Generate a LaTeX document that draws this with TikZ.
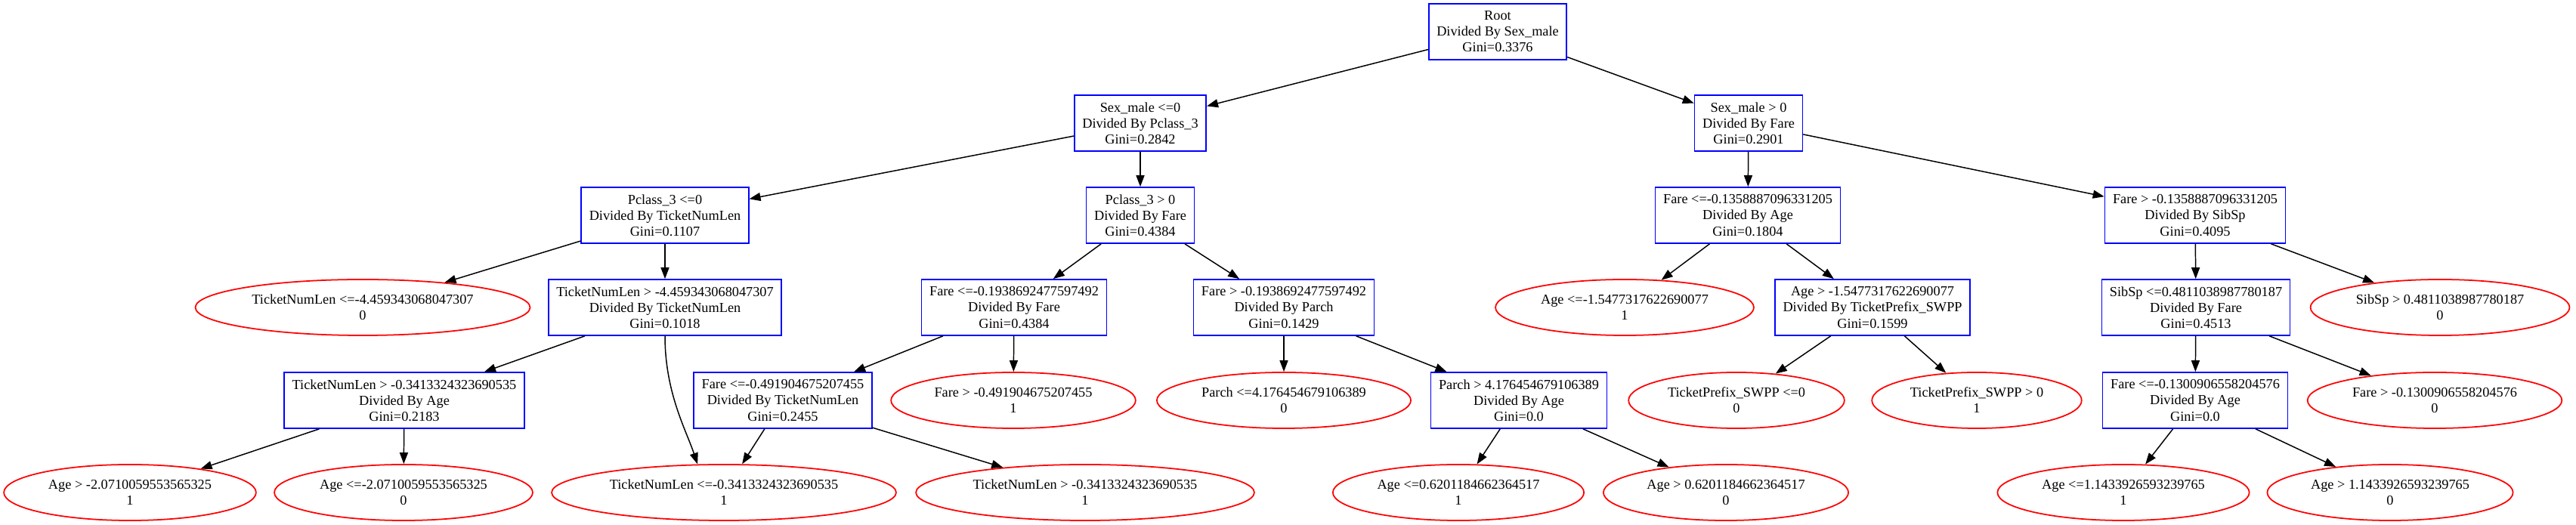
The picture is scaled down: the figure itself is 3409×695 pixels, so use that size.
\documentclass[tikz,border=0pt]{standalone}
\usepackage{fontspec}
\setmainfont{Liberation Serif}
\usepackage{xcolor}
\usepackage{tikz}
\usetikzlibrary{arrows.meta,positioning,shapes.geometric}
\definecolor{treeblue}{HTML}{0000FF}
\definecolor{treered}{HTML}{FF0000}

\begin{document}
\begin{tikzpicture}[x=0.01cm,y=-0.01cm,
  splitbox/.style={rectangle, draw=treeblue, line width=0.45pt, align=center, minimum height=0.74cm, inner xsep=0.105cm, inner ysep=0pt, font=\fontsize{5.2}{6}\selectfont},
  leafnode/.style={ellipse, draw=treered, line width=0.5pt, align=center, minimum height=0.74cm, inner xsep=0.1cm, inner ysep=0pt, font=\fontsize{5.2}{6}\selectfont},
  branch/.style={draw=black, line width=0.42pt, -{Triangle[length=1.5mm,width=1.1mm]}}]
\def\yA{42}
\def\yB{163}
\def\yC{285}
\def\yD{407}
\def\yE{530}
\def\yF{652}

\useasboundingbox (0,0) rectangle (3409,695);

% splits
\node[splitbox] (root) at (1982,\yA) {Root\\Divided By Sex\_male\\Gini=0.3376};

\node[splitbox] (sm0) at (1509,\yB) {Sex\_male <=0\\Divided By Pclass\_3\\Gini=0.2842};
\node[splitbox] (sm1) at (2314,\yB) {Sex\_male > 0\\Divided By Fare\\Gini=0.2901};

\node[splitbox] (pc0) at (880,\yC) {Pclass\_3 <=0\\Divided By TicketNumLen\\Gini=0.1107};
\node[splitbox] (pc1) at (1509,\yC) {Pclass\_3 > 0\\Divided By Fare\\Gini=0.4384};
\node[splitbox] (fa0) at (2313,\yC) {Fare <=-0.1358887096331205\\Divided By Age\\Gini=0.1804};
\node[splitbox] (fa1) at (2905,\yC) {Fare > -0.1358887096331205\\Divided By SibSp\\Gini=0.4095};

\node[leafnode] (tn0) at (480,\yD) {TicketNumLen <=-4.459343068047307\\0};
\node[splitbox] (tn1) at (880,\yD) {TicketNumLen > -4.459343068047307\\Divided By TicketNumLen\\Gini=0.1018};
\node[splitbox] (fb0) at (1342,\yD) {Fare <=-0.1938692477597492\\Divided By Fare\\Gini=0.4384};
\node[splitbox] (fb1) at (1699,\yD) {Fare > -0.1938692477597492\\Divided By Parch\\Gini=0.1429};
\node[leafnode] (ag0) at (2150,\yD) {Age <=-1.5477317622690077\\1};
\node[splitbox] (ag1) at (2478,\yD) {Age > -1.5477317622690077\\Divided By TicketPrefix\_SWPP\\Gini=0.1599};
\node[splitbox] (sb0) at (2906,\yD) {SibSp <=0.4811038987780187\\Divided By Fare\\Gini=0.4513};
\node[leafnode] (sb1) at (3229,\yD) {SibSp > 0.4811038987780187\\0};

\node[splitbox] (tm1) at (535,\yE) {TicketNumLen > -0.3413324323690535\\Divided By Age\\Gini=0.2183};
\node[splitbox] (fc0) at (1036,\yE) {Fare <=-0.491904675207455\\Divided By TicketNumLen\\Gini=0.2455};
\node[leafnode] (fc1) at (1341,\yE) {Fare > -0.491904675207455\\1};
\node[leafnode] (pa0) at (1699,\yE) {Parch <=4.176454679106389\\0};
\node[splitbox] (pa1) at (2010,\yE) {Parch > 4.176454679106389\\Divided By Age\\Gini=0.0};
\node[leafnode] (tp0) at (2298,\yE) {TicketPrefix\_SWPP <=0\\0};
\node[leafnode] (tp1) at (2616,\yE) {TicketPrefix\_SWPP > 0\\1};
\node[splitbox] (fd0) at (2905,\yE) {Fare <=-0.1300906558204576\\Divided By Age\\Gini=0.0};
\node[leafnode] (fd1) at (3222,\yE) {Fare > -0.1300906558204576\\0};

% leaves
\node[leafnode] (ae1) at (172,\yF) {Age > -2.0710059553565325\\1};
\node[leafnode] (ae0) at (534,\yF) {Age <=-2.0710059553565325\\0};
\node[leafnode] (tl0) at (958,\yF) {TicketNumLen <=-0.3413324323690535\\1};
\node[leafnode] (tl1) at (1436,\yF) {TicketNumLen > -0.3413324323690535\\1};
\node[leafnode] (ah0) at (1930,\yF) {Age <=0.6201184662364517\\1};
\node[leafnode] (ah1) at (2284,\yF) {Age > 0.6201184662364517\\0};
\node[leafnode] (ai0) at (2810,\yF) {Age <=1.1433926593239765\\1};
\node[leafnode] (ai1) at (3163,\yF) {Age > 1.1433926593239765\\0};

% branches
\draw[branch] (root) -- (sm0);
\draw[branch] (root) -- (sm1);
\draw[branch] (sm0) -- (pc0);
\draw[branch] (sm0) -- (pc1);
\draw[branch] (sm1) -- (fa0);
\draw[branch] (sm1) -- (fa1);
\draw[branch] (pc0) -- (tn0);
\draw[branch] (pc0) -- (tn1);
\draw[branch] (pc1) -- (fb0);
\draw[branch] (pc1) -- (fb1);
\draw[branch] (fa0) -- (ag0);
\draw[branch] (fa0) -- (ag1);
\draw[branch] (fa1) -- (sb0);
\draw[branch] (fa1) -- (sb1);
\draw[branch] (tn1) -- (tm1);
\draw[branch] (tn1.south) .. controls +(0,75) and +(-15,-45) .. (tl0.133);
\draw[branch] (fb0) -- (fc0);
\draw[branch] (fb0) -- (fc1);
\draw[branch] (fb1) -- (pa0);
\draw[branch] (fb1) -- (pa1);
\draw[branch] (ag1) -- (tp0);
\draw[branch] (ag1) -- (tp1);
\draw[branch] (sb0) -- (fd0);
\draw[branch] (sb0) -- (fd1);
\draw[branch] (tm1) -- (ae1);
\draw[branch] (tm1) -- (ae0);
\draw[branch] (fc0) -- (tl0);
\draw[branch] (fc0) -- (tl1);
\draw[branch] (pa1) -- (ah0);
\draw[branch] (pa1) -- (ah1);
\draw[branch] (fd0) -- (ai0);
\draw[branch] (fd0) -- (ai1);
\end{tikzpicture}
\end{document}
